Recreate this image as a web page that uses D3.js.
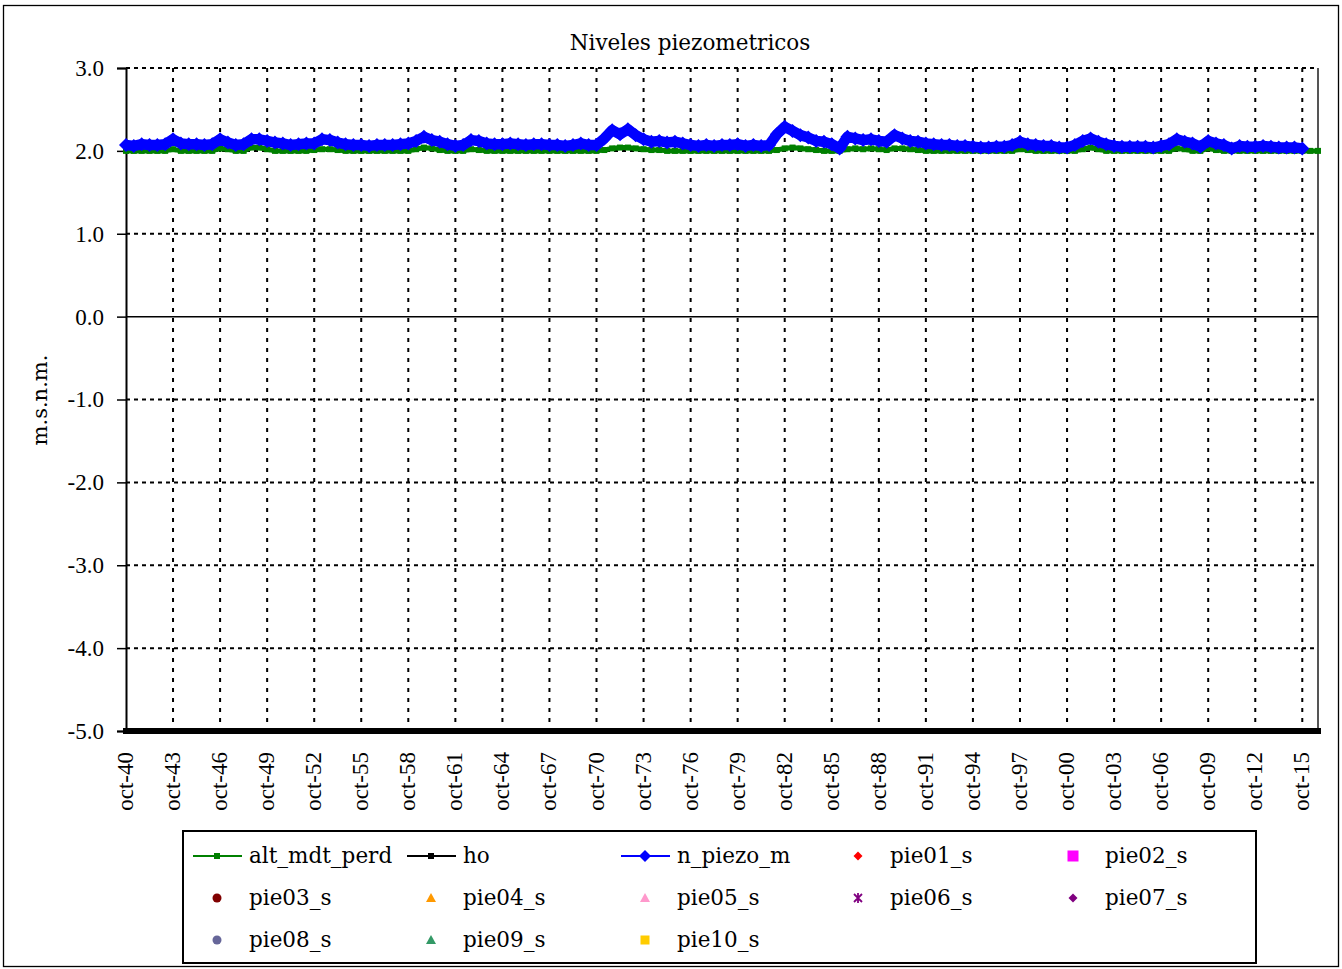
<!DOCTYPE html>
<html>
<head>
<meta charset="utf-8">
<script src="https://cdn.jsdelivr.net/npm/d3@7/dist/d3.min.js"></script>
<style>
  html, body { margin: 0; padding: 0; background: #fff; }
  svg { display: block; }
</style>
</head>
<body>
<svg id="chart" width="1342" height="969"></svg>
<script>
// ---------------- DATA ----------------
const dates = ["1940-10",
"1941-04","1941-10","1942-04","1942-10","1943-04","1943-10","1944-04","1944-10","1945-04","1945-10",
"1946-04","1946-10","1947-04","1947-10","1948-04","1948-10","1949-04","1949-10","1950-04","1950-10",
"1951-04","1951-10","1952-04","1952-10","1953-04","1953-10","1954-04","1954-10","1955-04","1955-10",
"1956-04","1956-10","1957-04","1957-10","1958-04","1958-10","1959-04","1959-10","1960-04","1960-10",
"1961-04","1961-10","1962-04","1962-10","1963-04","1963-10","1964-04","1964-10","1965-04","1965-10",
"1966-04","1966-10","1967-04","1967-10","1968-04","1968-10","1969-04","1969-10","1970-04","1970-10",
"1971-04","1971-10","1972-04","1972-10","1973-04","1973-10","1974-04","1974-10","1975-04","1975-10",
"1976-04","1976-10","1977-04","1977-10","1978-04","1978-10","1979-04","1979-10","1980-04","1980-10",
"1981-04","1981-10","1982-04","1982-10","1983-04","1983-10","1984-04","1984-10","1985-04","1985-10",
"1986-04","1986-10","1987-04","1987-10","1988-04","1988-10","1989-04","1989-10","1990-04","1990-10",
"1991-04","1991-10","1992-04","1992-10","1993-04","1993-10","1994-04","1994-10","1995-04","1995-10",
"1996-04","1996-10","1997-04","1997-10","1998-04","1998-10","1999-04","1999-10","2000-04","2000-10",
"2001-04","2001-10","2002-04","2002-10","2003-04","2003-10","2004-04","2004-10","2005-04","2005-10",
"2006-04","2006-10","2007-04","2007-10","2008-04","2008-10","2009-04","2009-10","2010-04","2010-10",
"2011-04","2011-10","2012-04","2012-10","2013-04","2013-10","2014-04","2014-10","2015-04","2015-10",
"2016-04","2016-10"];

const alt_mdt_perd = [
2.00,2.00,2.00,2.00,2.00,2.00,2.02,2.00,2.00,2.00,
2.00,2.00,2.03,2.02,2.00,2.00,2.04,2.04,2.02,2.00,
2.00,2.00,2.00,2.00,2.01,2.02,2.02,2.01,2.00,2.00,
2.00,2.00,2.00,2.00,2.00,2.00,2.00,2.02,2.04,2.03,
2.01,2.00,2.00,2.00,2.02,2.01,2.00,2.00,2.00,2.00,
2.00,2.00,2.00,2.00,2.00,2.00,2.00,2.00,2.00,2.00,
2.00,2.01,2.03,2.04,2.04,2.03,2.02,2.01,2.01,2.00,
2.00,2.00,2.00,2.00,2.00,2.00,2.00,2.00,2.00,2.00,
2.00,2.00,2.00,2.01,2.03,2.04,2.03,2.02,2.01,2.00,
2.00,2.00,2.02,2.03,2.02,2.03,2.02,2.01,2.03,2.03,
2.02,2.01,2.00,2.00,2.00,2.00,2.00,2.00,2.00,2.00,
2.00,2.00,2.00,2.00,2.02,2.01,2.00,2.00,2.00,2.00,
2.00,2.00,2.02,2.04,2.02,2.00,2.00,2.00,2.00,2.00,
2.00,2.00,2.00,2.00,2.03,2.02,2.00,2.00,2.03,2.01,
2.00,2.00,2.00,2.00,2.00,2.00,2.00,2.00,2.00,2.00,
2.00,2.00,2.00];

const ho = [
-5,-5,-5,-5,-5,-5,-5,-5,-5,-5, -5,-5,-5,-5,-5,-5,-5,-5,-5,-5,
-5,-5,-5,-5,-5,-5,-5,-5,-5,-5, -5,-5,-5,-5,-5,-5,-5,-5,-5,-5,
-5,-5,-5,-5,-5,-5,-5,-5,-5,-5, -5,-5,-5,-5,-5,-5,-5,-5,-5,-5,
-5,-5,-5,-5,-5,-5,-5,-5,-5,-5, -5,-5,-5,-5,-5,-5,-5,-5,-5,-5,
-5,-5,-5,-5,-5,-5,-5,-5,-5,-5, -5,-5,-5,-5,-5,-5,-5,-5,-5,-5,
-5,-5,-5,-5,-5,-5,-5,-5,-5,-5, -5,-5,-5,-5,-5,-5,-5,-5,-5,-5,
-5,-5,-5,-5,-5,-5,-5,-5,-5,-5, -5,-5,-5,-5,-5,-5,-5,-5,-5,-5,
-5,-5,-5,-5,-5,-5,-5,-5,-5,-5, -5,-5,-5];

const n_piezo_m = [
2.07,2.06,2.08,2.07,2.07,2.08,2.14,2.09,2.08,2.08,
2.07,2.08,2.14,2.10,2.07,2.08,2.14,2.14,2.12,2.10,
2.09,2.07,2.08,2.09,2.09,2.14,2.13,2.10,2.08,2.07,
2.07,2.06,2.07,2.07,2.07,2.08,2.09,2.12,2.17,2.13,
2.11,2.08,2.06,2.07,2.13,2.12,2.09,2.08,2.08,2.09,
2.08,2.07,2.08,2.08,2.07,2.07,2.06,2.07,2.09,2.07,
2.07,2.15,2.25,2.20,2.26,2.19,2.14,2.11,2.12,2.10,
2.11,2.09,2.07,2.06,2.07,2.06,2.07,2.07,2.08,2.06,
2.07,2.06,2.07,2.20,2.29,2.24,2.19,2.16,2.12,2.11,
2.08,2.03,2.17,2.15,2.13,2.14,2.12,2.11,2.19,2.15,
2.12,2.11,2.09,2.08,2.07,2.07,2.06,2.06,2.05,2.04,
2.04,2.05,2.05,2.07,2.11,2.08,2.07,2.06,2.06,2.04,
2.04,2.07,2.12,2.15,2.11,2.08,2.06,2.05,2.05,2.05,
2.05,2.04,2.06,2.08,2.14,2.11,2.09,2.05,2.12,2.09,
2.07,2.03,2.06,2.05,2.05,2.06,2.05,2.04,2.04,2.04,2.03];

// observation series with no values in this chart
const pie01_s = [], pie02_s = [], pie03_s = [], pie04_s = [], pie05_s = [];
const pie06_s = [], pie07_s = [], pie08_s = [], pie09_s = [], pie10_s = [];

const yTicks = [3, 2, 1, 0, -1, -2, -3, -4, -5];
const yTickLabels = ["3.0", "2.0", "1.0", "0.0", "-1.0", "-2.0", "-3.0", "-4.0", "-5.0"];
const xTickDates = ["1940-10","1943-10","1946-10","1949-10","1952-10","1955-10","1958-10","1961-10",
  "1964-10","1967-10","1970-10","1973-10","1976-10","1979-10","1982-10","1985-10","1988-10","1991-10",
  "1994-10","1997-10","2000-10","2003-10","2006-10","2009-10","2012-10","2015-10"];
const xTickLabels = ["oct-40","oct-43","oct-46","oct-49","oct-52","oct-55","oct-58","oct-61","oct-64",
  "oct-67","oct-70","oct-73","oct-76","oct-79","oct-82","oct-85","oct-88","oct-91","oct-94","oct-97",
  "oct-00","oct-03","oct-06","oct-09","oct-12","oct-15"];

const titleText = "Niveles piezometricos";
const yTitle = "m.s.n.m.";

// ---------------- CHART ----------------
const parse = d3.timeParse("%Y-%m");
const svg = d3.select("#chart");
const W = 1342, H = 969;
const plot = {left: 126, right: 1318, top: 68, bottom: 731};

const x = d3.scaleTime()
  .domain([parse("1940-10"), parse("2016-10")])
  .range([plot.left, plot.right]);
const y = d3.scaleLinear().domain([-5, 3]).range([plot.bottom, plot.top]);

const serifWide = "'DejaVu Serif', serif";
const serifNum = "'Liberation Serif', 'Times New Roman', serif";

svg.append("rect").attr("width", W).attr("height", H).attr("fill", "#fff");
svg.append("rect").attr("x", 3.5).attr("y", 5.5).attr("width", 1335).attr("height", 961)
  .attr("fill", "none").attr("stroke", "#000").attr("stroke-width", 1.3);

// title
svg.append("text").attr("x", 690).attr("y", 50).attr("text-anchor", "middle")
  .attr("font-family", serifWide).attr("font-size", 21.5).attr("fill", "#000").text(titleText);

// horizontal gridlines
const grid = svg.append("g");
grid.selectAll("line.hg").data(yTicks.filter(v => v !== 0 && v !== -5)).enter().append("line")
  .attr("x1", plot.left).attr("x2", plot.right)
  .attr("y1", d => y(d)).attr("y2", d => y(d))
  .attr("stroke", "#000").attr("stroke-width", 2).attr("stroke-dasharray", "4,4");
// vertical gridlines
const xTickDateObjs = xTickDates.map(parse);
grid.selectAll("line.vg").data(xTickDateObjs.slice(1)).enter().append("line")
  .attr("x1", d => x(d)).attr("x2", d => x(d))
  .attr("y1", plot.top).attr("y2", plot.bottom)
  .attr("stroke", "#000").attr("stroke-width", 2).attr("stroke-dasharray", "4,6");

// right plot border
svg.append("line").attr("x1", plot.right).attr("x2", plot.right)
  .attr("y1", plot.top).attr("y2", plot.bottom)
  .attr("stroke", "#555").attr("stroke-width", 2);

// zero line (category axis crossing)
svg.append("line").attr("x1", plot.left).attr("x2", plot.right)
  .attr("y1", y(0)).attr("y2", y(0)).attr("stroke", "#000").attr("stroke-width", 1.5);

// y axis
const yAxis = d3.axisLeft(y).tickValues(yTicks)
  .tickFormat((d, i) => yTickLabels[i]).tickSize(9).tickPadding(13);
const yg = svg.append("g").attr("transform", `translate(${plot.left},0)`).call(yAxis);
yg.select(".domain").attr("stroke", "#000").attr("stroke-width", 2);
yg.selectAll(".tick line").attr("stroke", "#000").attr("stroke-width", 1.5);
yg.selectAll(".tick text").attr("font-family", serifNum).attr("font-size", 23).attr("fill", "#000");

// y title
svg.append("text").attr("transform", "translate(47,400) rotate(-90)").attr("text-anchor", "middle")
  .attr("font-family", serifWide).attr("font-size", 21).attr("fill", "#000").text(yTitle);

// x tick labels
svg.append("g").selectAll("text").data(xTickDateObjs).enter().append("text")
  .attr("transform", (d) => `translate(${x(d) + 7},752) rotate(-90)`)
  .attr("text-anchor", "end")
  .attr("font-family", serifNum).attr("font-size", 23).attr("fill", "#000")
  .text((d, i) => xTickLabels[i]);

// series
const diamond = r => `M0,${-r}L${r},0L0,${r}L${-r},0Z`;
const rows = (vals) => vals.map((v, i) => ({d: parse(dates[i]), v}));
const line = d3.line().x(p => x(p.d)).y(p => y(p.v));

// green alt_mdt_perd
const gData = rows(alt_mdt_perd);
svg.append("path").datum(gData).attr("d", line).attr("fill", "none")
  .attr("stroke", "#008000").attr("stroke-width", 5).attr("stroke-linejoin", "round");
svg.append("g").selectAll("rect").data(gData).enter().append("rect")
  .attr("x", p => x(p.d) - 3).attr("y", p => y(p.v) - 3)
  .attr("width", 6).attr("height", 6).attr("fill", "#008000");

// blue n_piezo_m
const bData = rows(n_piezo_m);
svg.append("path").datum(bData).attr("d", line).attr("fill", "none")
  .attr("stroke", "#0000FF").attr("stroke-width", 10.5).attr("stroke-linejoin", "round");
svg.append("g").selectAll("path").data(bData).enter().append("path")
  .attr("transform", p => `translate(${x(p.d)},${y(p.v)})`)
  .attr("d", diamond(7)).attr("fill", "#0000FF");

// black ho
const hData = rows(ho);
svg.append("path").datum(hData).attr("d", line).attr("fill", "none")
  .attr("stroke", "#000").attr("stroke-width", 6);
svg.append("g").selectAll("rect").data(hData).enter().append("rect")
  .attr("x", p => x(p.d) - 3).attr("y", p => y(p.v) - 3)
  .attr("width", 6).attr("height", 6).attr("fill", "#000");

// ---------------- LEGEND ----------------
svg.append("rect").attr("x", 183).attr("y", 831).attr("width", 1073).attr("height", 132)
  .attr("fill", "#fff").attr("stroke", "#000").attr("stroke-width", 2);

const legendItems = [
  {name: "alt_mdt_perd", data: alt_mdt_perd, color: "#008000", sym: "sqsmall", line: true},
  {name: "ho", data: ho, color: "#000000", sym: "sqsmall", line: true},
  {name: "n_piezo_m", data: n_piezo_m, color: "#0000FF", sym: "diamondBig", line: true},
  {name: "pie01_s", data: pie01_s, color: "#FF0000", sym: "diamond", line: false},
  {name: "pie02_s", data: pie02_s, color: "#FF00FF", sym: "square", line: false},
  {name: "pie03_s", data: pie03_s, color: "#800000", sym: "circle", line: false},
  {name: "pie04_s", data: pie04_s, color: "#FF9900", sym: "triangle", line: false},
  {name: "pie05_s", data: pie05_s, color: "#FF99CC", sym: "triangle", line: false},
  {name: "pie06_s", data: pie06_s, color: "#800080", sym: "star", line: false},
  {name: "pie07_s", data: pie07_s, color: "#800080", sym: "diamond", line: false},
  {name: "pie08_s", data: pie08_s, color: "#666699", sym: "circle", line: false},
  {name: "pie09_s", data: pie09_s, color: "#339966", sym: "triangle", line: false},
  {name: "pie10_s", data: pie10_s, color: "#FFCC00", sym: "squareSmall2", line: false}
];
const colX = [217, 431, 645, 858, 1073];
const rowY = [856, 898, 940];
const lg = svg.append("g");
legendItems.forEach((it, k) => {
  const cx = colX[k % 5], cy = rowY[Math.floor(k / 5)];
  const g = lg.append("g").attr("transform", `translate(${cx},${cy})`);
  if (it.line) {
    g.append("line").attr("x1", -24).attr("x2", 25).attr("y1", 0).attr("y2", 0)
      .attr("stroke", it.color).attr("stroke-width", 2);
  }
  switch (it.sym) {
    case "sqsmall": g.append("rect").attr("x", -3).attr("y", -3).attr("width", 6).attr("height", 6).attr("fill", it.color); break;
    case "diamondBig": g.append("path").attr("d", diamond(6)).attr("fill", it.color); break;
    case "diamond": g.append("path").attr("d", diamond(4.5)).attr("fill", it.color); break;
    case "square": g.append("rect").attr("x", -5.5).attr("y", -5.5).attr("width", 11).attr("height", 11).attr("fill", it.color); break;
    case "squareSmall2": g.append("rect").attr("x", -4.5).attr("y", -4.5).attr("width", 9).attr("height", 9).attr("fill", it.color); break;
    case "circle": g.append("circle").attr("r", 4.5).attr("fill", it.color); break;
    case "triangle": g.append("path").attr("d", "M0,-5L5,4L-5,4Z").attr("fill", it.color); break;
    case "star":
      g.append("path").attr("d", "M-4,-4L4,4M4,-4L-4,4M0,-5L0,5").attr("stroke", it.color).attr("stroke-width", 1.8).attr("fill", "none");
      break;
  }
  lg.append("text").attr("x", cx + 32).attr("y", cy + 7)
    .attr("font-family", serifWide).attr("font-size", 21.5).attr("fill", "#000").text(it.name);
});
</script>
</body>
</html>
